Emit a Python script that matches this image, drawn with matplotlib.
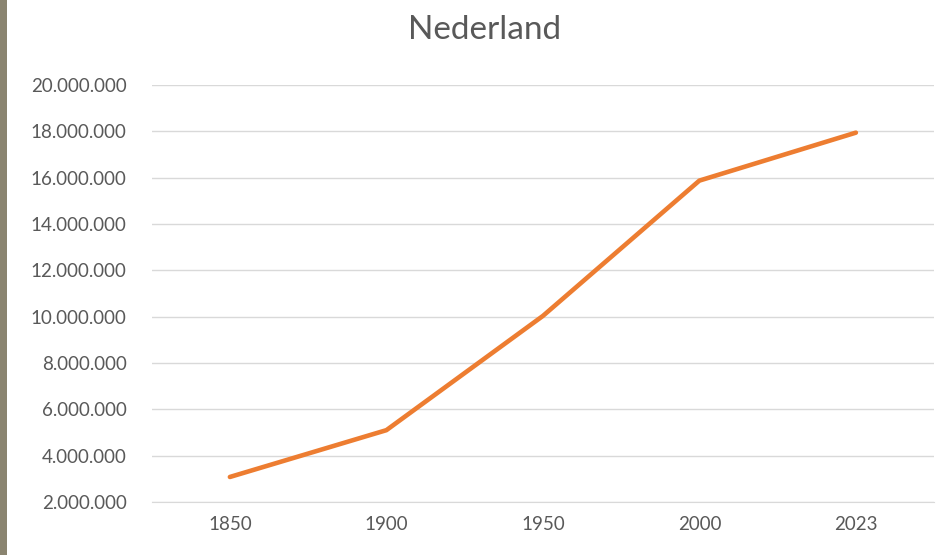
import matplotlib.pyplot as plt
from matplotlib.patches import Rectangle
from matplotlib.ticker import FuncFormatter

# data
years = ['1850', '1900', '1950', '2000', '2023']
population = [3080000, 5100000, 10030000, 15870000, 17940000]
y_ticks = list(range(2000000, 20000001, 2000000))

plt.rcParams['font.family'] = ['Lato', 'DejaVu Sans']

fig = plt.figure(figsize=(9.36, 5.55), dpi=100)
ax = fig.add_axes([0.162, 0.0955, 0.836, 0.7515])

x = list(range(len(years)))
ax.plot(x, population, color='#ED7D31', linewidth=3.3, solid_capstyle='round')

ax.set_xlim(-0.5, len(years) - 0.5)
ax.set_xticks(x)
ax.set_xticklabels(years)
ax.set_ylim(2000000, 20000000)
ax.set_yticks(y_ticks)
ax.yaxis.set_major_formatter(FuncFormatter(lambda v, p: f'{int(v):,}'.replace(',', '.')))

ax.grid(axis='y', color='#D9D9D9', linewidth=1.0)
ax.set_axisbelow(True)
for s in ['top', 'right', 'left']:
    ax.spines[s].set_visible(False)
ax.spines['bottom'].set_color('#D9D9D9')
ax.tick_params(axis='both', length=0, labelsize=13.5, colors='#595959')
ax.tick_params(axis='y', pad=18)
ax.tick_params(axis='x', pad=10)

fig.text(485 / 936, 1 - 30 / 555, 'Nederland', ha='center', va='center',
         fontsize=24, color='#595959')

# scanned page edge on the left
fig.patches.append(Rectangle((0, 0), 7 / 936, 1, transform=fig.transFigure,
                             facecolor='#8a8470', edgecolor='none'))

fig.savefig('out.png', dpi=100, facecolor='white')
